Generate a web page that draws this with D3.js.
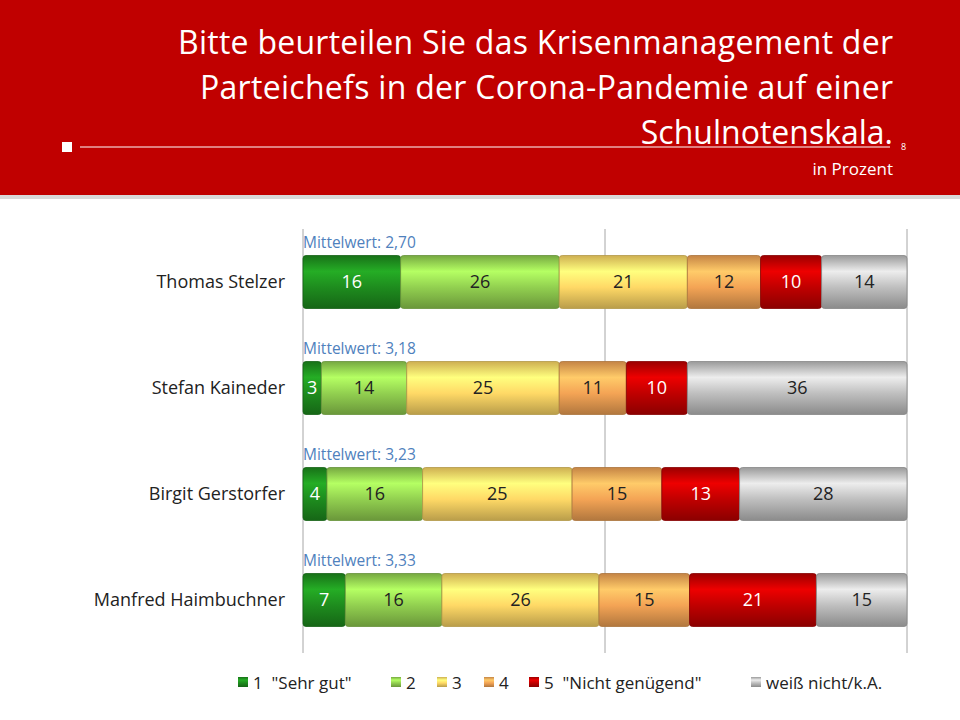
<!DOCTYPE html>
<html><head><meta charset="utf-8">
<script src="https://cdn.jsdelivr.net/npm/d3@7"></script>
<style>body{margin:0;background:#fff}svg{display:block}</style>
</head><body><div id="chart"></div>
<script>
// data
const persons = ['Thomas Stelzer', 'Stefan Kaineder', 'Birgit Gerstorfer', 'Manfred Haimbuchner'];
const means = ['2,70', '3,18', '3,23', '3,33'];
const grades = ['1  "Sehr gut"', '2', '3', '4', '5  "Nicht genügend"', 'weiß nicht/k.A.'];
const values = [
  [16, 26, 21, 12, 10, 14],
  [3, 14, 25, 11, 10, 36],
  [4, 16, 25, 15, 13, 28],
  [7, 16, 26, 15, 21, 15]
];
const colors = ['#1e8c1e', '#92d050', '#ffd966', '#f4a455', '#c00000', '#bfbfbf'];

const W = 960, H = 720;
const svg = d3.select('#chart').append('svg').attr('width', W).attr('height', H)
  .style('font-family', '"Open Sans", sans-serif');

// header
svg.append('rect').attr('width', W).attr('height', 195).attr('fill', '#c00000');
svg.append('rect').attr('y', 195).attr('width', W).attr('height', 4).attr('fill', '#d9d9d9');
const title = ['Bitte beurteilen Sie das Krisenmanagement der', 'Parteichefs in der Corona-Pandemie auf einer', 'Schulnotenskala.'];
title.forEach((t, i) => svg.append('text').attr('x', 893).attr('y', 54 + i * 45)
  .attr('text-anchor', 'end').attr('fill', '#fff').attr('font-size', 32)
  .attr('textLength', i < 2 ? null : null).text(t));
svg.selectAll('text').each(function(d, i) {
  if (i === 0) d3.select(this).attr('textLength', 715);
  if (i === 1) d3.select(this).attr('textLength', 693);
});
svg.append('rect').attr('x', 62).attr('y', 142).attr('width', 10).attr('height', 10).attr('fill', '#fff');
svg.append('line').attr('x1', 80).attr('x2', 890).attr('y1', 147).attr('y2', 147).attr('stroke', '#fff');
svg.append('text').attr('x', 901).attr('y', 150).attr('fill', '#fff').attr('font-size', 9).text('8');
svg.append('text').attr('x', 893).attr('y', 175).attr('text-anchor', 'end').attr('fill', '#fff')
  .attr('font-size', 17).text('in Prozent');

// gradients
const defs = svg.append('defs');
colors.forEach((c, i) => {
  const g = defs.append('linearGradient').attr('id', 'g' + i).attr('x1', 0).attr('x2', 0).attr('y1', 0).attr('y2', 1);
  const base = d3.color(c);
  g.append('stop').attr('offset', '0%').attr('stop-color', base.darker(0.6));
  g.append('stop').attr('offset', '30%').attr('stop-color', base.brighter(0.6));
  g.append('stop').attr('offset', '60%').attr('stop-color', base);
  g.append('stop').attr('offset', '100%').attr('stop-color', base.darker(0.9));
});

const x = d3.scaleLinear().domain([0, 100]).range([303, 907]);
const y = d3.scaleBand().domain(persons).range([229, 653]).paddingInner(0.5).paddingOuter(0.25);

// grid
[0, 50, 100].forEach(v => svg.append('line').attr('x1', x(v)).attr('x2', x(v))
  .attr('y1', 229).attr('y2', 653).attr('stroke', '#a6a6a6'));

persons.forEach((p, r) => {
  const tot = d3.sum(values[r]);
  let acc = 0;
  const by = y(p), bh = y.bandwidth();
  svg.append('text').attr('x', 285).attr('y', by + bh / 2 + 6).attr('text-anchor', 'end')
    .attr('font-size', 18).attr('fill', '#222').text(p);
  svg.append('text').attr('x', 303).attr('y', by - 8).attr('font-size', 15.5).attr('fill', '#4f81bd')
    .text('Mittelwert: ' + means[r]);
  values[r].forEach((v, i) => {
    const x0 = x(acc / tot * 100), x1 = x((acc + v) / tot * 100);
    acc += v;
    svg.append('rect').attr('x', x0).attr('y', by).attr('width', x1 - x0).attr('height', bh)
      .attr('rx', 3).attr('fill', `url(#g${i})`).attr('stroke', d3.color(colors[i]).darker(1)).attr('stroke-width', 0.8);
    svg.append('text').attr('x', (x0 + x1) / 2).attr('y', by + bh / 2 + 6).attr('text-anchor', 'middle')
      .attr('font-size', 18).attr('fill', (i === 0 || i === 4) ? '#fff' : '#222').text(v);
  });
});

// legend
const lx = [238, 391, 437, 484, 529, 751];
grades.forEach((g, i) => {
  svg.append('rect').attr('x', lx[i]).attr('y', 677).attr('width', 10).attr('height', 10)
    .attr('fill', `url(#g${i})`);
  svg.append('text').attr('x', lx[i] + 15).attr('y', 689).attr('font-size', 17).attr('fill', '#222')
    .attr('xml:space', 'preserve').text(g);
});
</script></body></html>
